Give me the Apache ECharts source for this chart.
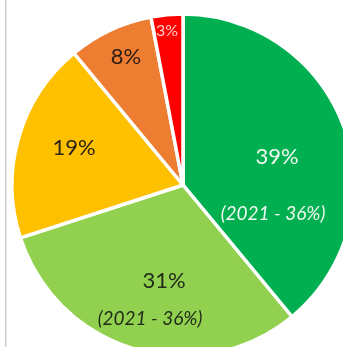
<!DOCTYPE html>
<html>
<head>
<meta charset="utf-8">
<script src="https://cdn.jsdelivr.net/npm/echarts@6/dist/echarts.min.js"></script>
<style>
  html, body { margin: 0; padding: 0; background: #ffffff; }
  #chart { width: 343px; height: 347px; }
</style>
</head>
<body>
<div id="chart"></div>
<script>
// Shares of the current year, in percent, clockwise from 12 o'clock
const categories = ['A', 'B', 'C', 'D', 'E'];
const shares = [39, 31, 19, 8, 3];
// Previous-year share shown under a slice's value (null where not shown)
const prevYear = '2021';
const prevShares = [36, 36, null, null, null];
const colors = ['#00B050', '#92D050', '#FFC000', '#ED7D31', '#FF0000'];

// Label anchor per slice (block centre in px)
const labelAnchors = [
  [273, 185.5],
  [150, 300],
  [74, 148],
  [126, 57],
  [167, 31]
];

const chart = echarts.init(document.getElementById('chart'), null, { renderer: 'canvas' });

const data = categories.map((name, i) => ({
  name: name,
  value: shares[i],
  itemStyle: { color: colors[i] }
}));

const font = 'Lato, "Open Sans", sans-serif';

chart.setOption({
  animation: false,
  backgroundColor: '#ffffff',
  graphic: [{
    type: 'rect',
    shape: { x: 5, y: 0, width: 1.5, height: 347 },
    style: { fill: '#cfcfcf' },
    z: 10
  }],
  series: [{
    type: 'pie',
    center: [183, 185],
    radius: [0, 171],
    startAngle: 90,
    clockwise: true,
    silent: true,
    itemStyle: { borderColor: '#ffffff', borderWidth: 3.5 },
    labelLine: { show: false },
    label: {
      show: true,
      position: 'inside',
      fontFamily: font,
      formatter: function (p) {
        const i = p.dataIndex;
        const main = '{v' + i + '|' + p.value + '%}';
        if (prevShares[i] == null) return main;
        return main + '\n{s' + i + '|(' + prevYear + ' - ' + prevShares[i] + '%)}';
      },
      rich: {
        v0: { fontFamily: font, fontSize: 22, color: '#eef8f0', lineHeight: 57, padding: [0, 0, 0, 8] },
        s0: { fontFamily: font, fontSize: 19, fontStyle: 'italic', color: '#eef8f0', lineHeight: 57 },
        v1: { fontFamily: font, fontSize: 22, color: '#1f2a17', lineHeight: 38, padding: [0, 0, 0, 28] },
        s1: { fontFamily: font, fontSize: 19, fontStyle: 'italic', color: '#1f2a17', lineHeight: 38 },
        v2: { fontFamily: font, fontSize: 22, color: '#2b2414' },
        v3: { fontFamily: font, fontSize: 22, color: '#2b1d14' },
        v4: { fontFamily: font, fontSize: 16, color: '#ffc9c9' }
      }
    },
    labelLayout: function (p) {
      const a = labelAnchors[p.dataIndex];
      return { x: a[0], y: a[1], align: 'center', verticalAlign: 'middle' };
    },
    data: data
  }]
});
</script>
</body>
</html>
